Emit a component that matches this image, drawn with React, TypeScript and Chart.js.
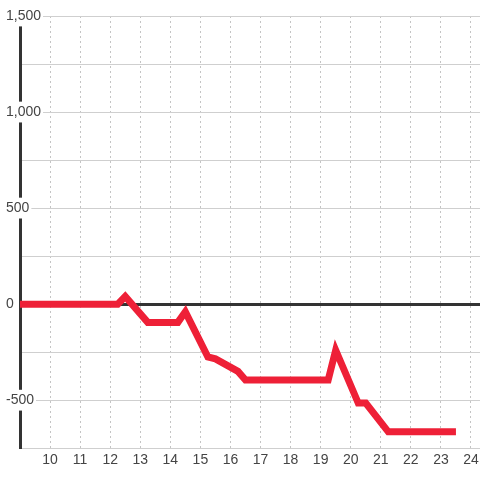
import React, { useEffect, useRef } from "react";
import { Chart, registerables } from "chart.js";

Chart.register(...registerables);

const hours = [9, 12.25, 12.5, 13.25, 14.25, 14.5, 15.25, 15.5, 16.25, 16.5, 19.25, 19.5, 20.25, 20.5, 21.25, 23.5];
const values = [0, 0, 40, -95, -95, -40, -275, -285, -350, -395, -395, -240, -515, -515, -665, -665];
const xTickValues = [10, 11, 12, 13, 14, 15, 16, 17, 18, 19, 20, 21, 22, 23, 24];
const yMin = -750;
const yMax = 1500;
const yStep = 250;
const yLabelStep = 500;

export default function App() {
  const ref = useRef<HTMLCanvasElement | null>(null);
  useEffect(() => {
    if (!ref.current) return;
    const font = { family: "'Liberation Sans', Arial, sans-serif", size: 14 };
    const chart = new Chart(ref.current, {
      type: "line",
      data: {
        datasets: [
          {
            data: hours.map((h, i) => ({ x: h, y: values[i] })),
            borderColor: "#ee2037",
            borderWidth: 7,
            pointRadius: 0,
            tension: 0,
            borderJoinStyle: "miter",
            fill: false,
          },
        ],
      },
      options: {
        responsive: false,
        animation: false,
        layout: { padding: { left: 6, top: 16, right: 0, bottom: 7 } },
        plugins: { legend: { display: false }, tooltip: { enabled: false } },
        scales: {
          x: {
            type: "linear",
            min: 9,
            max: 24.3,
            afterBuildTicks: (axis: any) => {
              axis.ticks = xTickValues.map((value) => ({ value }));
            },
            afterFit: (axis: any) => {
              axis.paddingLeft = 0;
              axis.paddingRight = 0;
            },
            grid: {
              color: "#c4c4c4",
              lineWidth: 1,
              drawTicks: false,
            },
            border: { display: false, dash: [2, 3] },
            ticks: {
              font,
              color: "#444",
              padding: 4,
              maxRotation: 0,
              autoSkip: false,
              callback: (v: any) => String(v),
            },
          },
          y: {
            min: yMin,
            max: yMax,
            afterFit: (axis: any) => {
              axis.width = 14;
            },
            grid: {
              color: (ctx: any) => (ctx.tick && ctx.tick.value === 0 ? "#333" : "#cfcfcf"),
              lineWidth: (ctx: any) => (ctx.tick && ctx.tick.value === 0 ? 3 : 1),
              drawTicks: false,
            },
            border: { display: true, color: "#333", width: 3 },
            ticks: {
              stepSize: yStep,
              autoSkip: false,
              font,
              color: "#444",
              mirror: true,
              padding: -14,
              showLabelBackdrop: true,
              backdropColor: "#ffffff",
              backdropPadding: 2,
              callback: (v: any) =>
                Number(v) % yLabelStep === 0 ? Number(v).toLocaleString("en-US") : "",
            },
          },
        },
      },
    } as any);
    return () => chart.destroy();
  }, []);
  return (
    <div style={{ position: "absolute", left: 0, top: 0, width: 480, height: 480, background: "#fff" }}>
      <canvas ref={ref} width={480} height={480} style={{ display: "block" }} />
    </div>
  );
}
